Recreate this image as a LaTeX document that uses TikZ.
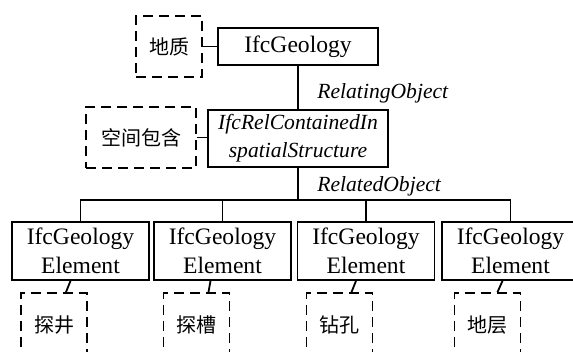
\documentclass[tikz,border=0pt]{standalone}
\usepackage{fontspec}
\setmainfont{Liberation Serif}
\newfontfamily\cjk{Noto Sans CJK SC}
\usetikzlibrary{positioning}

\tikzset{every picture/.style={line width=0.9pt}}
\tikzset{
  entity/.style={draw, inner sep=0.75pt, align=center, font=\fontsize{11.8}{14.5}\selectfont},
  relbox/.style={draw, inner sep=0.75pt, align=center, font=\fontsize{10.8}{14}\selectfont\itshape},
  meaning/.style={draw, dash pattern={on 5pt off 3pt}, inner sep=0.75pt, font=\fontsize{10}{12}\selectfont\cjk},
  rolelabel/.style={anchor=west, inner sep=0.75pt, font=\fontsize{10.8}{13}\selectfont\itshape}
}

\begin{document}
\begin{tikzpicture}[x=0.5pt,y=0.5pt,yscale=-1,xscale=1]
		%set diagram size as the reference image
		\useasboundingbox (0,0) rectangle (573,352);
		\clip (0,0) rectangle (573,352);

		% Text Node
		\node [entity, minimum width=80pt, minimum height=18.5pt] (geo) at (298,46.5) {IfcGeology};
		% Text Node
		\node [meaning, minimum width=33pt, minimum height=30.5pt] (dz) at (169,46.5) {地质};

		% Text Node
		\node [relbox, minimum width=90pt, minimum height=28.5pt] (rel) at (298,138.5) {IfcRelContainedIn\\spatialStructure};
		% Text Node
		\node [meaning, minimum width=55pt, minimum height=30.5pt] (kj) at (141,137.5) {空间包含};

		% Text Node
		\node [rolelabel] (relating) at (315,93) {RelatingObject};
		% Text Node
		\node [rolelabel] (related) at (315,186) {RelatedObject};

		% Element Nodes
		\node [entity, minimum width=68.5pt, minimum height=29pt] (e1) at (80.5,251) {IfcGeology\\Element};
		\node [entity, minimum width=68.5pt, minimum height=29pt] (e2) at (222.5,251) {IfcGeology\\Element};
		\node [entity, minimum width=68.5pt, minimum height=29pt] (e3) at (366,251) {IfcGeology\\Element};
		\node [entity, minimum width=68.5pt, minimum height=29pt] (e4) at (510.5,251) {IfcGeology\\Element};

		% Dashed Nodes (cut at the bottom)
		\node [meaning, minimum width=33pt, minimum height=32pt] (d1) at (54,325) {探井};
		\node [meaning, minimum width=33pt, minimum height=32pt] (d2) at (196.5,325) {探槽};
		\node [meaning, minimum width=33pt, minimum height=32pt] (d3) at (339.5,325) {钻孔};
		\node [meaning, minimum width=33pt, minimum height=32pt] (d4) at (487.5,325) {地层};

		%Straight Lines
		\draw (dz.east) -- (dz.east -| geo.west) ;
		\draw (kj.east) -- (kj.east -| rel.west) ;
		\draw (geo.south) -- (rel.north) ;

		%Straight Lines
		\coordinate (bus) at (298,200);
		\draw (rel.south) -- (bus) ;
		\draw (e1.north) |- (bus) -| (e4.north) ;
		\draw (e2.north) -- (e2.north |- bus) ;
		\draw (e3.north) -- (e3.north |- bus) ;

		%Straight Lines
		\draw ([xshift=-5pt]e1.south) -- ([xshift=6pt]d1.north) ;
		\draw ([xshift=-6pt]e2.south) -- ([xshift=6pt]d2.north) ;
		\draw ([xshift=-5pt]e3.south) -- ([xshift=6pt]d3.north) ;
		\draw ([xshift=-4pt]e4.south) -- ([xshift=5pt]d4.north) ;
	\end{tikzpicture}
\end{document}
